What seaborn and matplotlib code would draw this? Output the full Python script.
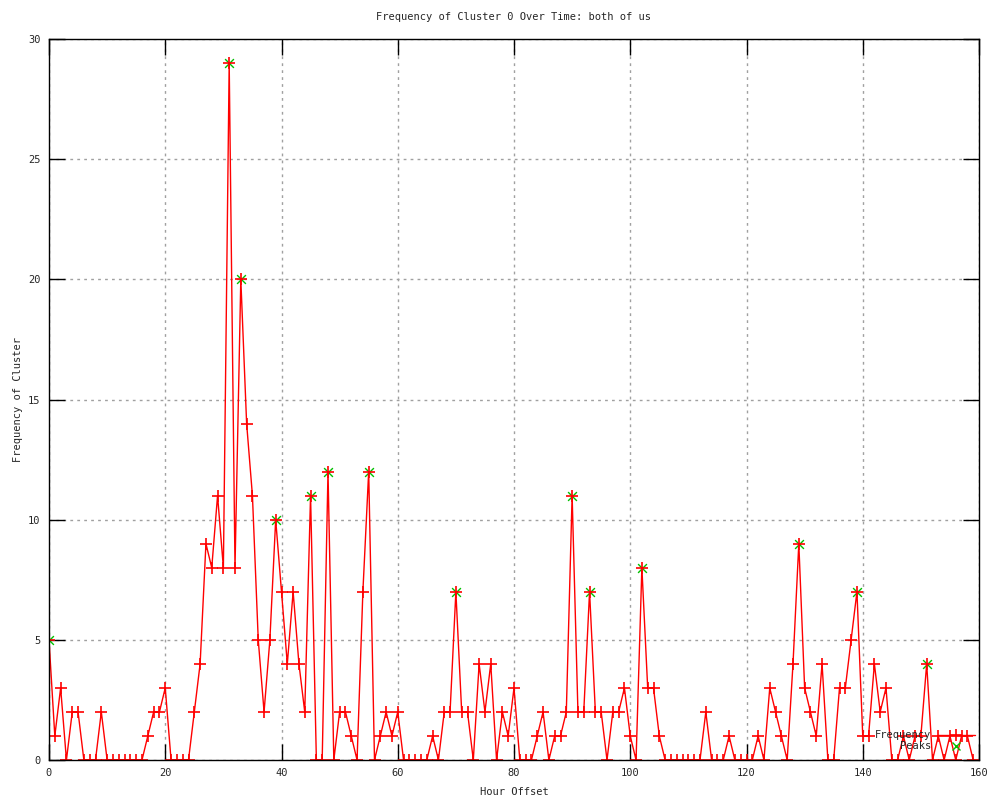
import matplotlib
matplotlib.use("Agg")
import matplotlib.pyplot as plt
import seaborn as sns
import pandas as pd
from matplotlib.lines import Line2D

# ---- data ----
frequency = [5, 1, 3, 0, 2, 2, 0, 0, 0, 2,
             0, 0, 0, 0, 0, 0, 0, 1, 2, 2,
             3, 0, 0, 0, 0, 2, 4, 9, 8, 11,
             8, 29, 8, 20, 14, 11, 5, 2, 5, 10,
             7, 4, 7, 4, 2, 11, 0, 0, 12, 0,
             2, 2, 1, 0, 7, 12, 0, 1, 2, 1,
             2, 0, 0, 0, 0, 0, 1, 0, 2, 2,
             7, 2, 2, 0, 4, 2, 4, 0, 2, 1,
             3, 0, 0, 0, 1, 2, 0, 1, 1, 2,
             11, 2, 2, 7, 2, 2, 0, 2, 2, 3,
             1, 0, 8, 3, 3, 1, 0, 0, 0, 0,
             0, 0, 0, 2, 0, 0, 0, 1, 0, 0,
             0, 0, 1, 0, 3, 2, 1, 0, 4, 9,
             3, 2, 1, 4, 0, 0, 3, 3, 5, 7,
             1, 1, 4, 2, 3, 0, 0, 1, 0, 1,
             1, 4, 0, 1, 0, 1, 0, 1, 1, 0]
hours = list(range(len(frequency)))

peak_hours = [0, 31, 33, 39, 45, 48, 55, 70, 90, 93, 102, 129, 139, 151]
peak_values = [5, 29, 20, 10, 11, 12, 12, 7, 11, 7, 8, 9, 7, 4]

x_ticks = [0, 20, 40, 60, 80, 100, 120, 140, 160]
y_ticks = [0, 5, 10, 15, 20, 25, 30]

title = "Frequency of Cluster 0 Over Time: both of us"
x_label = "Hour Offset"
y_label = "Frequency of Cluster"

# ---- style ----
sns.set_style("white")
plt.rcParams["font.family"] = ["DejaVu Sans Mono", "DejaVu Sans"]
FS = 7.5
RED = "#ff0000"
GREEN = "#00c000"

freq_df = pd.DataFrame({"hour": hours, "freq": frequency})
peak_df = pd.DataFrame({"hour": peak_hours, "value": peak_values})

fig = plt.figure(figsize=(10, 8), dpi=100)
ax = fig.add_axes([0.049, 0.05, 0.930, 0.90125])

# grid behind
ax.set_axisbelow(True)
ax.grid(True, color="#a0a0a0", linestyle=(0, (2, 3)), linewidth=1.0)

sns.scatterplot(data=peak_df, x="hour", y="value", ax=ax, marker="x",
                color=GREEN, s=40, linewidth=1.0, zorder=3, legend=False)
sns.lineplot(data=freq_df, x="hour", y="freq", ax=ax, color=RED,
             linewidth=1.0, marker="+", markersize=9, markeredgewidth=1.2,
             markeredgecolor=RED, zorder=4, legend=False)

ax.set_xlim(0, 160)
ax.set_ylim(0, 30)
ax.set_xticks(x_ticks)
ax.set_yticks(y_ticks)
ax.set_xticklabels([str(t) for t in x_ticks], fontsize=FS)
ax.set_yticklabels([str(t) for t in y_ticks], fontsize=FS)
ax.tick_params(direction="in", length=11.5, width=1.0, color="black",
               top=True, right=True, bottom=True, left=True, pad=6)
for sp in ax.spines.values():
    sp.set_visible(True)
    sp.set_color("black")
    sp.set_linewidth(1.0)
    sp.set_zorder(5)

ax.set_title(title, fontsize=FS, pad=14)
ax.set_xlabel(x_label, fontsize=FS, labelpad=6)
ax.set_ylabel(y_label, fontsize=FS, labelpad=4)

handles = [
    Line2D([], [], color=RED, linewidth=1.0, marker="+", markersize=9,
           markeredgewidth=1.2),
    Line2D([], [], color=GREEN, linestyle="none", marker="x", markersize=6,
           markeredgewidth=1.0),
]
ax.legend(handles, ["Frequency", "Peaks"], loc="lower right",
          bbox_to_anchor=(0.9957, 0.012), frameon=False, markerfirst=False,
          fontsize=FS, handlelength=3.6, handletextpad=0.6, borderaxespad=0,
          borderpad=0, labelspacing=0.1, numpoints=1)

fig.savefig("out.png", dpi=100)
